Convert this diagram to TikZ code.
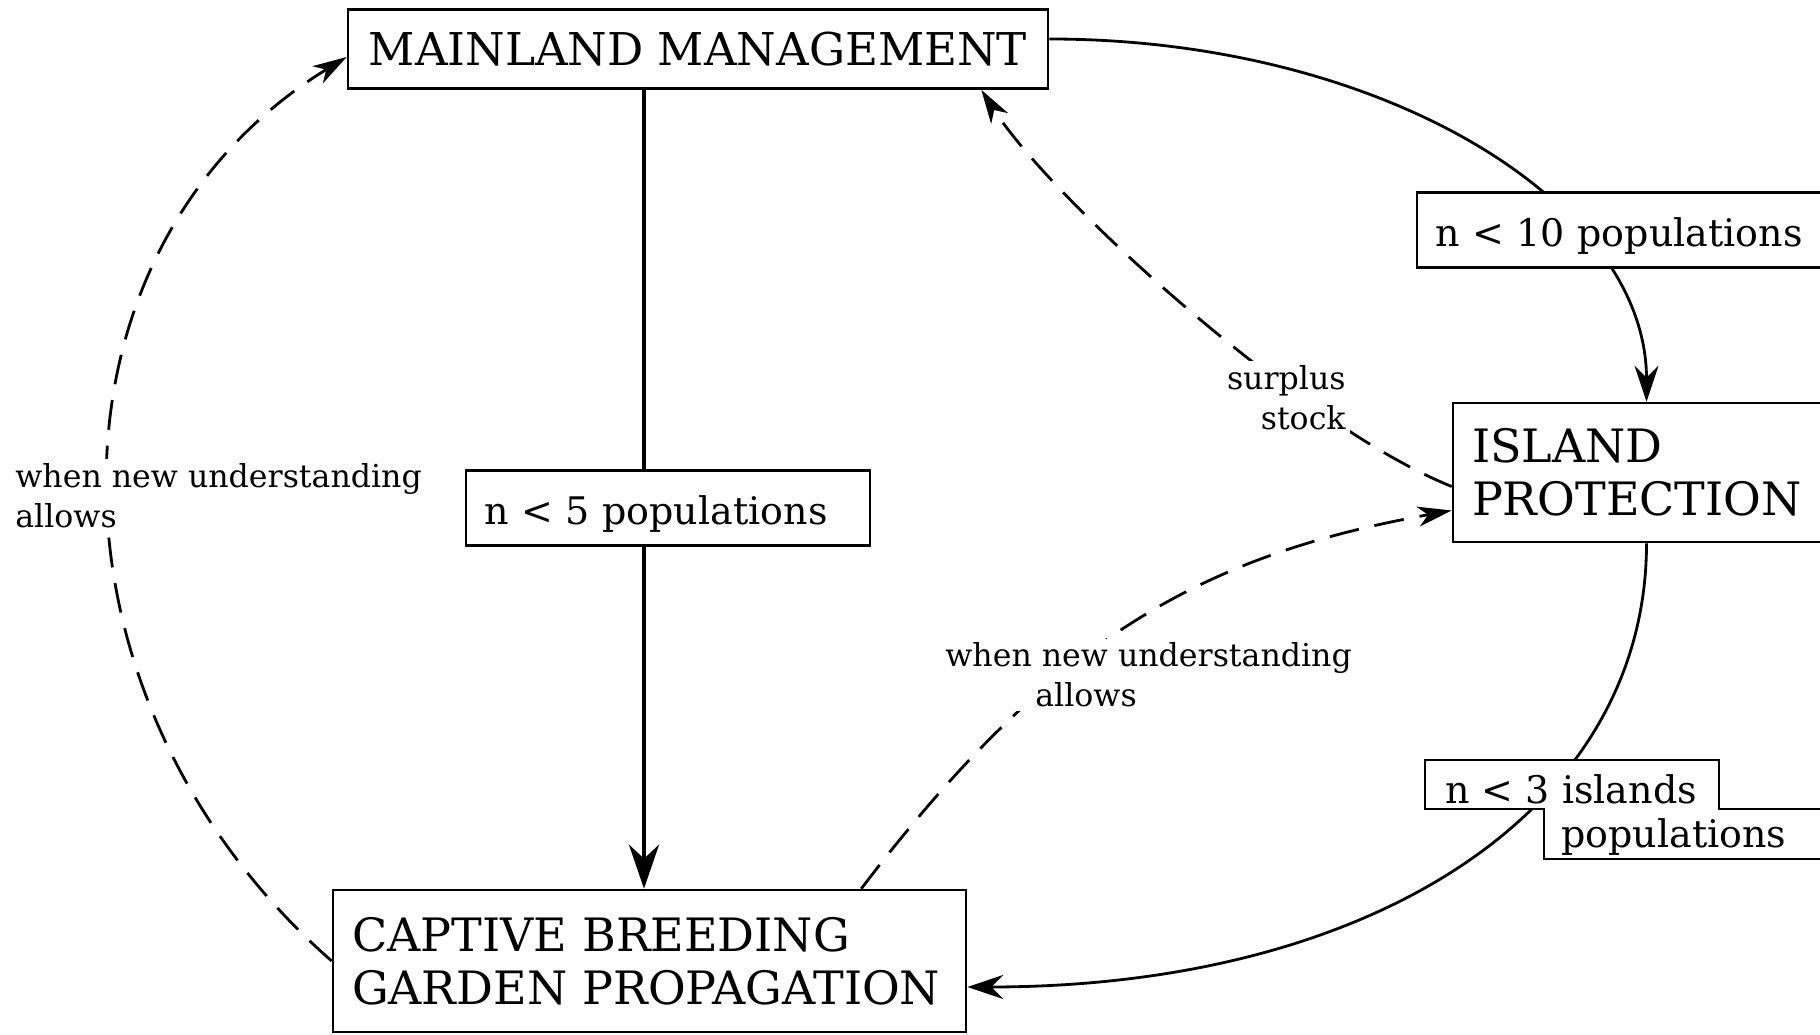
\documentclass[tikz,border=0pt]{standalone}
\usepackage{fontspec}
\setmainfont{DejaVu Serif}
\usetikzlibrary{arrows.meta}

\begin{document}
\begin{tikzpicture}[
  x=0.5pt, y=0.5pt,
  box/.style={draw, line width=1.3pt, fill=white, align=left, inner xsep=9.5pt, font=\fontsize{23}{26.5}\selectfont},
  tag/.style={draw, line width=1.3pt, fill=white, align=left, inner xsep=9pt, minimum height=37.5pt, text height=17pt, text depth=0.5pt, font=\fontsize{19}{23}\selectfont},
  tagtext/.style={inner sep=0pt, anchor=base west, font=\fontsize{19}{23}\selectfont},
  note/.style={fill=white, inner sep=2pt, font=\fontsize{15.8}{20}\selectfont},
  flow/.style={line width=1.4pt, -{Stealth[length=18pt, width=12pt, inset=6pt]}},
  heavy/.style={line width=2.4pt, -{Stealth[length=22pt, width=15pt, inset=7pt]}},
  link/.style={line width=1.4pt, dash pattern=on 15pt off 8pt, -{Stealth[length=17pt, width=10pt, inset=5pt]}}
]
\useasboundingbox (0,0) rectangle (1820,1034);
\node[box, align=center, inner xsep=6pt, minimum width=350pt, minimum height=39.5pt, font=\fontsize{22.6}{26.5}\selectfont] (mainland) at (698,985) {MAINLAND MANAGEMENT};
\node[box, text width=297.5pt, minimum height=71pt] (captive) at (649.5,73) {CAPTIVE BREEDING\\GARDEN PROPAGATION};
\node[box, text width=174.5pt, minimum height=69.5pt] (island) at (1646.5,561.5) {ISLAND\\PROTECTION};
\draw[heavy] ([xshift=-27pt]mainland.south) -- ([xshift=-27pt]mainland.south |- captive.north);
\draw[flow] ([yshift=5pt]mainland.east) .. controls +(330,0) and +(0,201) .. (island.north);
\draw[flow] (island.south) .. controls +(0,-267) and +(406,0) .. ([yshift=-13pt]captive.east);
\draw[link] (captive.west) .. controls +(-300,263) and +(-315,-193) .. ([yshift=-4pt]mainland.west);
\draw[link] ([yshift=-7pt]island.west) .. controls +(-150,60) and +(70,-110) .. ([xshift=-34pt]mainland.south east);
\draw[link] ([xshift=-53pt]captive.north east) .. controls +(190,250) and +(-250,-45) .. ([yshift=-19pt]island.west);
\node[tag, text width=184pt] (lbl5) at (668,526) {n < 5 populations};
\node[tag, text width=192.5pt] (lbl10) at (1627.5,804) {n < 10 populations};
\draw[line width=1.3pt, fill=white] (1425,274) -- (1719,274) -- (1719,225) -- (1840,225) -- (1840,175) -- (1544,175) -- (1544,225) -- (1425,225) -- cycle;
\node[tagtext] (lbl3a) at (1445,231) {n < 3 islands};
\node[tagtext] (lbl3b) at (1561,187) {populations};
\node[note, align=left, anchor=west] (leftnote) at (11,538.5) {when new understanding\\allows};
\node[note, align=left, anchor=west] (midnote) at (941,359) {when new understanding\\\hspace*{45pt}allows};
\node[note, align=right, anchor=east] (surplus) at (1350,636.5) {surplus\\stock};
\end{tikzpicture}
\end{document}
